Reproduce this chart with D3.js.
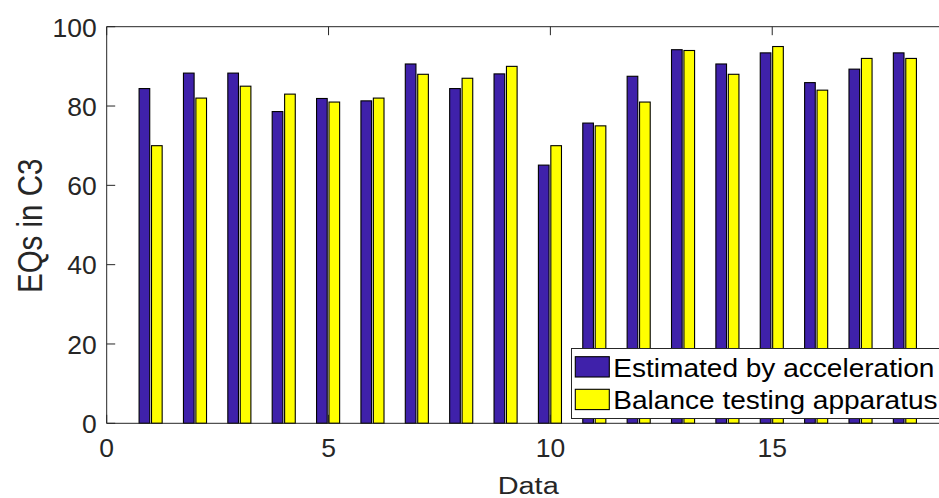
<!DOCTYPE html>
<html>
<head>
<meta charset="utf-8">
<script src="https://cdn.jsdelivr.net/npm/d3@7"></script>
<style>
  html, body { margin: 0; padding: 0; background: #fff; overflow: hidden; }
  svg { display: block; }
  text { font-family: "Liberation Sans", Arial, Helvetica, sans-serif; fill: #262626; }
</style>
</head>
<body>
<svg id="chart" width="939" height="498"></svg>
<script>
// Group index (1..18) along the x axis
const groups = d3.range(1, 19);
// EQs in C3 per data set
const accelValues = [84.4, 88.3, 88.3, 78.6, 81.9, 81.3, 90.6, 84.4, 88.1, 65.1, 75.7, 87.5, 94.2, 90.6, 93.4, 85.9, 89.3, 93.4];
const apparatusValues = [70, 82, 85, 83, 81, 82, 88, 87, 90, 70, 75, 81, 94, 88, 95, 84, 92, 92];
const seriesNames = ["Estimated by acceleration", "Balance testing apparatus"];
const seriesColors = ["#3f21aa", "#ffff00"];
const xTicks = [0, 5, 10, 15];
const yTicks = [0, 20, 40, 60, 80, 100];

const svg = d3.select("#chart");
const axisColor = "#262626";

const plotL = 106.7, plotR = 949.7, plotT = 26.7, plotB = 423.3;
const x = d3.scaleLinear().domain([0, 19]).range([plotL, plotR]);
const y = d3.scaleLinear().domain([0, 100]).range([plotB, plotT]);

const barW = 0.24;             // bar width in data units
const offsets = [-0.15, 0.13]; // bar centre offsets within a group

const series = [accelValues, apparatusValues];

// Bars
series.forEach((vals, s) => {
  svg.append("g")
    .selectAll("rect")
    .data(groups.map((g, i) => ({ g, v: vals[i] })))
    .join("rect")
    .attr("x", d => x(d.g + offsets[s] - barW / 2))
    .attr("width", d => x(d.g + offsets[s] + barW / 2) - x(d.g + offsets[s] - barW / 2))
    .attr("y", d => y(d.v))
    .attr("height", d => y(0) - y(d.v))
    .attr("fill", seriesColors[s])
    .attr("stroke", "#000")
    .attr("stroke-width", 1.1);
});

// Axes box (left, top, bottom; right edge falls outside the canvas)
const axes = svg.append("g").attr("stroke", axisColor).attr("stroke-width", 1).attr("fill", "none");
axes.append("line").attr("x1", plotL).attr("x2", plotL).attr("y1", plotT).attr("y2", plotB);
axes.append("line").attr("x1", plotL).attr("x2", plotR).attr("y1", plotT).attr("y2", plotT);
axes.append("line").attr("x1", plotL).attr("x2", plotR).attr("y1", plotB).attr("y2", plotB);

const tickLen = 8.5;
// y ticks (inward)
axes.selectAll(".yt").data(yTicks).join("line")
  .attr("x1", plotL).attr("x2", plotL + tickLen)
  .attr("y1", d => y(d)).attr("y2", d => y(d));
// x ticks on bottom and top (inward)
axes.append("g").selectAll("line").data(xTicks).join("line")
  .attr("x1", d => x(d)).attr("x2", d => x(d))
  .attr("y1", plotB).attr("y2", plotB - tickLen);
axes.append("g").selectAll("line").data(xTicks).join("line")
  .attr("x1", d => x(d)).attr("x2", d => x(d))
  .attr("y1", plotT).attr("y2", plotT + tickLen);

// Text helper with horizontal stretch
function label(txt, tx, ty, size, sx, anchor) {
  return svg.append("text")
    .attr("transform", `translate(${tx},${ty}) scale(${sx},1)`)
    .attr("text-anchor", anchor)
    .attr("font-size", size)
    .text(txt);
}

// Tick labels
yTicks.forEach(t => label(String(t), 96.7, y(t) + 9.8, 25, 1.06, "end"));
xTicks.forEach(t => label(String(t), x(t), 457, 25, 1.06, "middle"));

// Axis titles
label("Data", (plotL + plotR) / 2, 493.5, 24.5, 1.18, "middle");
svg.append("text")
  .attr("transform", `translate(41.5,225.8) rotate(-90) scale(1,1.18)`)
  .attr("text-anchor", "middle")
  .attr("font-size", 29.5)
  .text("EQs in C3");

// Legend
const lg = svg.append("g");
lg.append("rect")
  .attr("x", 571.5).attr("y", 348.5).attr("width", 376).attr("height", 70)
  .attr("fill", "#fff").attr("stroke", axisColor).attr("stroke-width", 1);
const rowsY = [356.7, 389.3];
seriesNames.forEach((name, i) => {
  lg.append("rect")
    .attr("x", 575.3).attr("y", rowsY[i]).attr("width", 34).attr("height", 20.3)
    .attr("fill", seriesColors[i]).attr("stroke", "#000").attr("stroke-width", 1.1);
  lg.append("text")
    .attr("transform", `translate(613.3,${rowsY[i] + 19.8}) scale(1.1,1)`)
    .attr("font-size", 25.5)
    .style("fill", "#000")
    .text(name);
});
</script>
</body>
</html>
